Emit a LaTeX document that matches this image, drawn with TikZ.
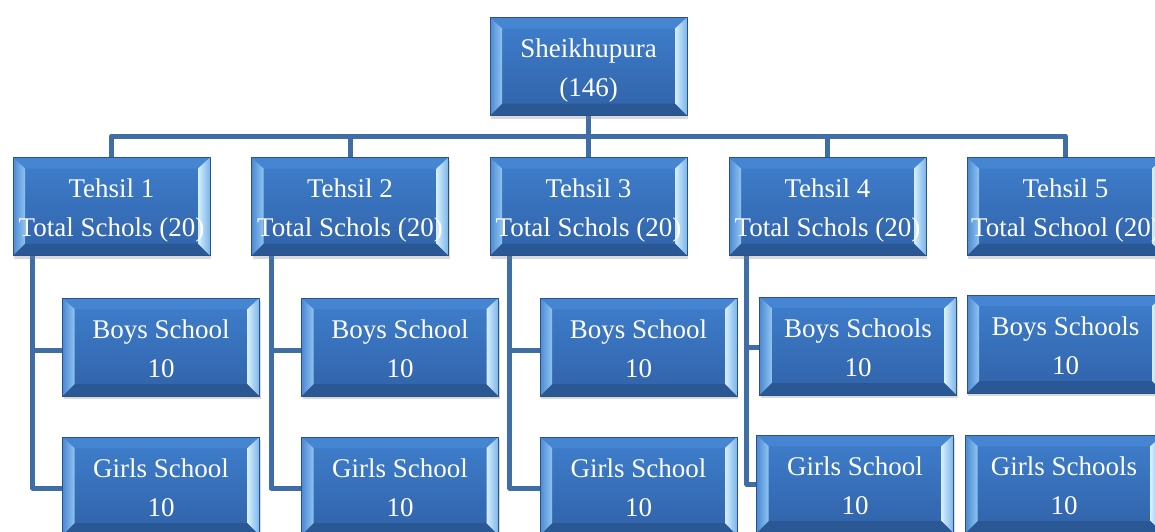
\documentclass[tikz,border=0pt]{standalone}
\usepackage{fontspec}
\setmainfont{Liberation Serif}
\usetikzlibrary{shadows,backgrounds}
\definecolor{faceT}{HTML}{3F7FCD}
\definecolor{faceB}{HTML}{3062A8}
\definecolor{edgec}{HTML}{2A5288}
\definecolor{bevTop}{HTML}{4685D1}
\definecolor{bevBot}{HTML}{2A5894}
\definecolor{bevLo}{HTML}{4C89D3}
\definecolor{bevLi}{HTML}{8FC4F1}
\definecolor{bevRi}{HTML}{D6EEFF}
\definecolor{bevRo}{HTML}{78B4E8}
\definecolor{linkc}{HTML}{3F6EA6}
\newcommand\twoline[2]{\raisebox{0pt}[\dimexpr\height+6pt\relax]{\begin{tabular}{@{}c@{}}#1\\#2\end{tabular}}}
\tikzset{
  bx/.style={rectangle, minimum width=197pt, minimum height=98pt, inner sep=0pt,
    draw=edgec, line width=0.6pt, top color=faceT, bottom color=faceB,
    text=white, font=\fontsize{27}{39}\selectfont,
    drop shadow={opacity=0.3, shadow xshift=1pt, shadow yshift=-3pt},
    path picture={
      \coordinate (A) at (path picture bounding box.north west);
      \coordinate (B) at (path picture bounding box.north east);
      \coordinate (C) at (path picture bounding box.south east);
      \coordinate (D) at (path picture bounding box.south west);
      \fill[bevTop] (A) -- (B) -- ([shift={(-12pt,-11pt)}]B) -- ([shift={(12pt,-11pt)}]A) -- cycle;
      \fill[bevBot] (D) -- (C) -- ([shift={(-12pt,12pt)}]C) -- ([shift={(12pt,12pt)}]D) -- cycle;
      \shade[left color=bevLo, right color=bevLi] (A) -- (D) -- ([shift={(12pt,12pt)}]D) -- ([shift={(12pt,-11pt)}]A) -- cycle;
      \shade[left color=bevRi, right color=bevRo] (B) -- (C) -- ([shift={(-12pt,12pt)}]C) -- ([shift={(-12pt,-11pt)}]B) -- cycle;
    }},
  link/.style={draw=linkc, line width=5pt, line join=round}
}
\begin{document}
\begin{tikzpicture}[x=1pt,y=-1pt]
\useasboundingbox (0,0) rectangle (1155,531);
\coordinate (bar) at (588.5,136);
% nodes
\node[bx] (root) at (588.5,66.5) {\twoline{Sheikhupura}{(146)}};
\node[bx] (t1) at (111.5,206.5) {\twoline{Tehsil 1}{Total Schols (20)}};
\node[bx] (t2) at (350,206.5) {\twoline{Tehsil 2}{Total Schols (20)}};
\node[bx] (t3) at (588.5,206.5) {\twoline{Tehsil 3}{Total Schols (20)}};
\node[bx] (t4) at (827.5,206.5) {\twoline{Tehsil 4}{Total Schols (20)}};
\node[bx] (t5) at (1065.5,206.5) {\twoline{Tehsil 5}{Total School (20)}};
\node[bx] (b1) at (161,347) {\twoline{Boys School}{10}};
\node[bx] (b2) at (400,347) {\twoline{Boys School}{10}};
\node[bx] (b3) at (638.5,347) {\twoline{Boys School}{10}};
\node[bx] (b4) at (858,346) {\twoline{Boys Schools}{10}};
\node[bx] (b5) at (1065.5,344) {\twoline{Boys Schools}{10}};
\node[bx] (g1) at (161,486) {\twoline{Girls School}{10}};
\node[bx] (g2) at (400,486) {\twoline{Girls School}{10}};
\node[bx] (g3) at (638.5,486) {\twoline{Girls School}{10}};
\node[bx] (g4) at (855,484) {\twoline{Girls School}{10}};
\node[bx] (g5) at (1064,484) {\twoline{Girls Schools}{10}};
% connectors (behind nodes)
\begin{scope}[on background layer]
\draw[link] (root.south) -- (bar);
\foreach \t in {t1,t2,t3,t4,t5}{
  \draw[link] (\t.north) |- (bar);
}
\foreach \t/\b/\g in {t1/b1/g1,t2/b2/g2,t3/b3/g3}{
  \draw[link] ([xshift=20pt]\t.south west) |- ([yshift=-3pt]\b.west);
  \draw[link] ([xshift=20pt]\t.south west) |- ([yshift=-2pt]\g.west);
}
\draw[link] ([xshift=18pt]t4.south west) |- ([yshift=-1pt]b4.west);
\draw[link] ([xshift=18pt]t4.south west) |- (g4.west);
\end{scope}
\end{tikzpicture}
\end{document}
